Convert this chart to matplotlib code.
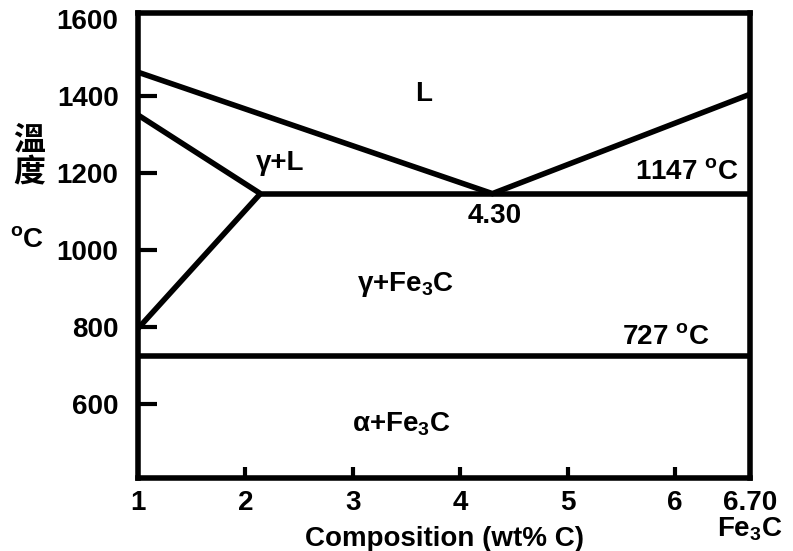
import matplotlib.pyplot as plt

plt.rcParams['font.family'] = ['Liberation Sans', 'Noto Sans CJK TC', 'DejaVu Sans']
plt.rcParams['font.weight'] = 'bold'
plt.rcParams['mathtext.default'] = 'regular'

# phase boundaries (wt% C, deg C)
liquidus_x = [1.0, 4.30, 6.70]
liquidus_y = [1462, 1147, 1405]
solidus_x = [1.0, 2.14]
solidus_y = [1351, 1147]
solvus_x = [2.14, 1.0]
solvus_y = [1147, 797]
eutectic_x = [2.14, 6.70]
eutectic_y = [1147, 1147]
eutectoid_x = [1.0, 6.70]
eutectoid_y = [727, 727]

xticks = [1, 2, 3, 4, 5, 6, 6.70]
xticklabels = ['1', '2', '3', '4', '5', '6', '6.70\nFe$_3$C']
yticks = [600, 800, 1000, 1200, 1400, 1600]

fig = plt.figure(figsize=(7.93, 5.51), dpi=100)
ax = fig.add_axes([0.174, 0.133, 0.772, 0.843])

lw = 4
for xs, ys in [(liquidus_x, liquidus_y), (solidus_x, solidus_y), (solvus_x, solvus_y),
               (eutectic_x, eutectic_y), (eutectoid_x, eutectoid_y)]:
    ax.plot(xs, ys, color='black', lw=lw, solid_capstyle='butt', solid_joinstyle='miter')

ax.set_xlim(1.0, 6.70)
ax.set_ylim(410, 1615)
for s in ax.spines.values():
    s.set_linewidth(4)

fs = 20
ax.set_xticks(xticks)
ax.set_xticklabels(xticklabels, fontsize=fs, fontweight='bold', va='top', linespacing=0.95)
ax.set_yticks(yticks)
ax.set_yticklabels([str(v) for v in yticks], fontsize=fs, fontweight='bold')
ax.tick_params(axis='y', direction='in', length=14, width=3, pad=14)
ax.tick_params(axis='x', direction='in', length=8, width=3, pad=9)
# no tick mark at 1600 / 1 / 6.70
for t in [ax.yaxis.get_major_ticks()[-1], ax.xaxis.get_major_ticks()[0], ax.xaxis.get_major_ticks()[-1]]:
    t.tick1line.set_visible(False)

ax.set_xlabel('Composition (wt% C)', fontsize=fs, fontweight='bold', labelpad=-12)

ax.text(3.66, 1405, 'L', fontsize=fs, ha='center', va='center')
ax.text(2.32, 1226, 'γ+L', fontsize=fs, ha='center', va='center')
ax.text(6.59, 1203, '1147 $^o$C', fontsize=fs, ha='right', va='center')
ax.text(4.32, 1089, '4.30', fontsize=fs, ha='center', va='center')
ax.text(3.49, 910, 'γ+Fe$_3$C', fontsize=fs, ha='center', va='center')
ax.text(5.91, 774, '727 $^o$C', fontsize=fs, ha='center', va='center')
ax.text(3.45, 548, 'α+Fe$_3$C', fontsize=fs, ha='center', va='center')

fig.text(29 / 793, 1 - 140 / 551, '溫', fontsize=23, fontweight='bold', ha='center', va='center',
         family=['Noto Sans CJK TC'])
fig.text(29 / 793, 1 - 173 / 551, '度', fontsize=23, fontweight='bold', ha='center', va='center',
         family=['Noto Sans CJK TC'])
fig.text(27 / 793, 1 - 240 / 551, '$^o$C', fontsize=fs, fontweight='bold', ha='center', va='center')

fig.savefig('out.png', dpi=100)
